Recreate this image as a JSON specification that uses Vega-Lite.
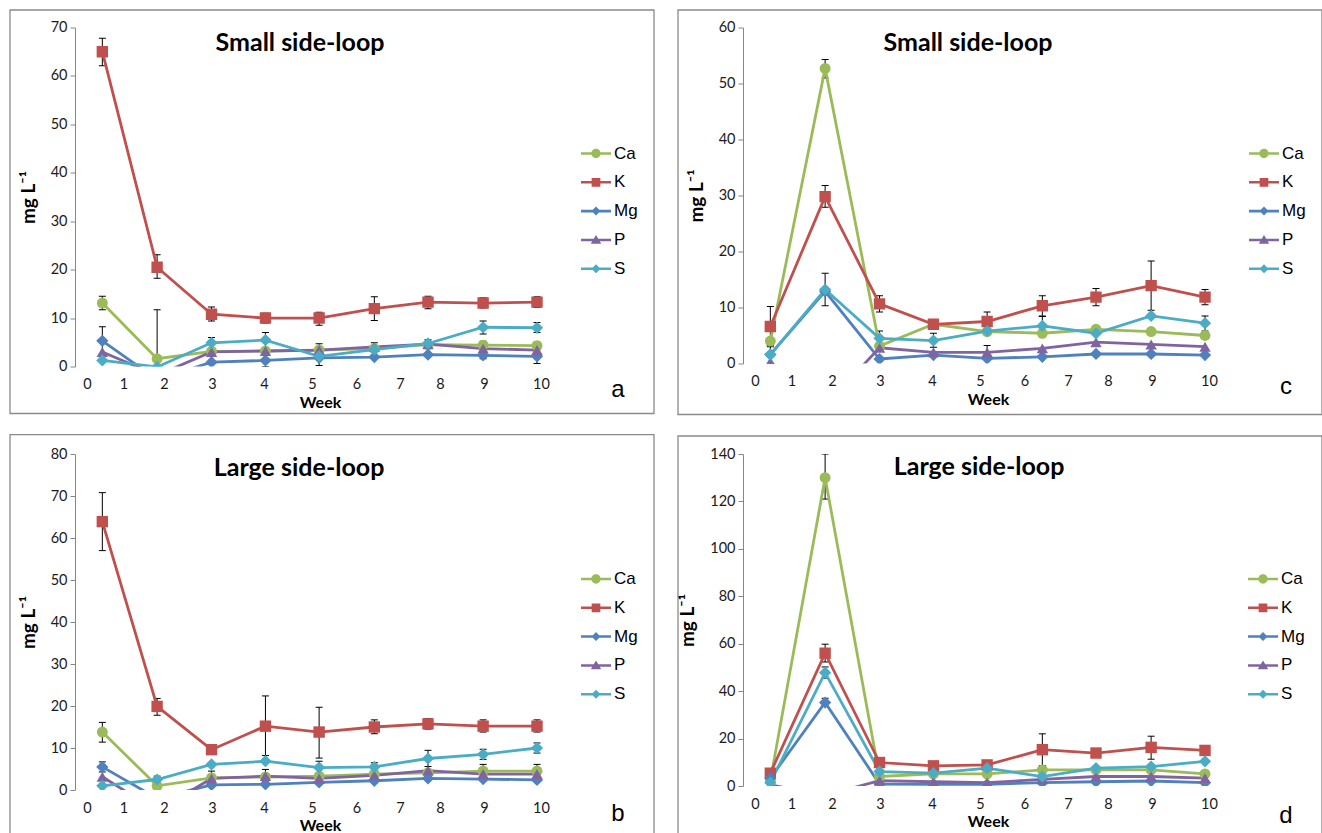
{
"$schema": "https://vega.github.io/schema/vega-lite/v6.json",
"background": "white",
"padding": {"left": 9, "top": 8.5, "right": 0, "bottom": 0},
"config": {
 "view": {"stroke": null},
 "axisY": {"domainColor": "#868686", "domainWidth": 1, "gridColor": "#b4b4b4", "gridWidth": 1, "tickColor": "#868686", "tickSize": 5, "labelFont": "Lato", "labelFontSize": 14.5, "labelColor": "#1a1a1a", "labelPadding": 3, "titleFont": "Lato", "titleFontSize": 19, "titleFontWeight": "bold", "titleColor": "#000", "titlePadding": 12},
 "axisX": {"domain": false, "ticks": false, "grid": false, "labelFont": "Lato", "labelFontSize": 14.5, "labelColor": "#1a1a1a", "labelPadding": 11, "labelFlush": false, "labelOverlap": false, "titleFont": "Lato", "titleFontSize": 16, "titleFontWeight": "bold", "titleColor": "#000", "titlePadding": 3},
 "legend": {"labelFont": "Liberation Sans", "labelFontSize": 17, "labelColor": "#000", "symbolSize": 900, "symbolStrokeWidth": 0, "symbolOpacity": 1, "rowPadding": 5.8, "labelOffset": 3, "padding": 0}
},
"datasets": {"pts": [
{"p":"a","el":"Ca","wk":0.42,"v":13.1,"lo":11.7,"hi":14.5},
{"p":"a","el":"Ca","wk":1.83,"v":1.6,"lo":-8.5,"hi":11.7},
{"p":"a","el":"Ca","wk":2.99,"v":3.1},
{"p":"a","el":"Ca","wk":4.03,"v":3.2},
{"p":"a","el":"Ca","wk":5.16,"v":3.4,"lo":2.6,"hi":4.7},
{"p":"a","el":"Ca","wk":6.41,"v":3.7},
{"p":"a","el":"Ca","wk":7.7,"v":4.5},
{"p":"a","el":"Ca","wk":8.98,"v":4.4,"lo":3.6,"hi":5.2},
{"p":"a","el":"Ca","wk":9.93,"v":4.3,"lo":3.5,"hi":5.0},
{"p":"a","el":"K","wk":0.42,"v":65.0,"lo":62.1,"hi":67.8},
{"p":"a","el":"K","wk":1.83,"v":20.5,"lo":18.2,"hi":23.1},
{"p":"a","el":"K","wk":2.99,"v":10.8,"lo":9.4,"hi":12.3},
{"p":"a","el":"K","wk":4.03,"v":10.0,"lo":9.0,"hi":11.0},
{"p":"a","el":"K","wk":5.16,"v":10.0,"lo":8.5,"hi":11.2},
{"p":"a","el":"K","wk":6.41,"v":11.95,"lo":9.5,"hi":14.4},
{"p":"a","el":"K","wk":7.7,"v":13.3,"lo":11.9,"hi":14.5},
{"p":"a","el":"K","wk":8.98,"v":13.1,"lo":12.1,"hi":14.2},
{"p":"a","el":"K","wk":9.93,"v":13.3,"lo":12.2,"hi":14.4},
{"p":"a","el":"Mg","wk":0.42,"v":5.3,"lo":2.4,"hi":8.2},
{"p":"a","el":"Mg","wk":1.83,"v":-2.7},
{"p":"a","el":"Mg","wk":2.99,"v":0.9},
{"p":"a","el":"Mg","wk":4.03,"v":1.25,"lo":0.0,"hi":2.5},
{"p":"a","el":"Mg","wk":5.16,"v":1.8},
{"p":"a","el":"Mg","wk":6.41,"v":1.95},
{"p":"a","el":"Mg","wk":7.7,"v":2.45},
{"p":"a","el":"Mg","wk":8.98,"v":2.3,"lo":1.6,"hi":3.0},
{"p":"a","el":"Mg","wk":9.93,"v":2.1,"lo":0.6,"hi":3.6},
{"p":"a","el":"P","wk":0.42,"v":3.0},
{"p":"a","el":"P","wk":1.83,"v":-1.8},
{"p":"a","el":"P","wk":2.99,"v":3.0},
{"p":"a","el":"P","wk":4.03,"v":3.2},
{"p":"a","el":"P","wk":5.16,"v":3.4},
{"p":"a","el":"P","wk":6.41,"v":4.05,"lo":3.4,"hi":4.9},
{"p":"a","el":"P","wk":7.7,"v":4.6},
{"p":"a","el":"P","wk":8.98,"v":3.7},
{"p":"a","el":"P","wk":9.93,"v":3.4},
{"p":"a","el":"S","wk":0.42,"v":1.25},
{"p":"a","el":"S","wk":1.83,"v":-0.1},
{"p":"a","el":"S","wk":2.99,"v":4.9,"lo":3.8,"hi":6.0},
{"p":"a","el":"S","wk":4.03,"v":5.45,"lo":3.9,"hi":7.0},
{"p":"a","el":"S","wk":5.16,"v":2.1,"lo":0.2,"hi":4.0},
{"p":"a","el":"S","wk":6.41,"v":3.5},
{"p":"a","el":"S","wk":7.7,"v":4.75,"lo":4.0,"hi":5.5},
{"p":"a","el":"S","wk":8.98,"v":8.1,"lo":6.7,"hi":9.4},
{"p":"a","el":"S","wk":9.93,"v":8.0,"lo":7.0,"hi":9.1},
{"p":"c","el":"Ca","wk":0.42,"v":4.0},
{"p":"c","el":"Ca","wk":1.83,"v":52.7,"lo":51.0,"hi":54.3},
{"p":"c","el":"Ca","wk":2.99,"v":3.1},
{"p":"c","el":"Ca","wk":4.03,"v":7.0},
{"p":"c","el":"Ca","wk":5.16,"v":5.7},
{"p":"c","el":"Ca","wk":6.41,"v":5.4},
{"p":"c","el":"Ca","wk":7.7,"v":6.1},
{"p":"c","el":"Ca","wk":8.98,"v":5.7},
{"p":"c","el":"Ca","wk":9.93,"v":5.0},
{"p":"c","el":"K","wk":0.42,"v":6.6,"lo":3.0,"hi":10.2},
{"p":"c","el":"K","wk":1.83,"v":29.8,"lo":27.9,"hi":31.8},
{"p":"c","el":"K","wk":2.99,"v":10.65,"lo":9.2,"hi":12.1},
{"p":"c","el":"K","wk":4.03,"v":7.0,"lo":6.3,"hi":7.7},
{"p":"c","el":"K","wk":5.16,"v":7.5,"lo":5.9,"hi":9.2},
{"p":"c","el":"K","wk":6.41,"v":10.3,"lo":8.5,"hi":12.1},
{"p":"c","el":"K","wk":7.7,"v":11.85,"lo":10.3,"hi":13.4},
{"p":"c","el":"K","wk":8.98,"v":13.9,"lo":9.5,"hi":18.3},
{"p":"c","el":"K","wk":9.93,"v":11.85,"lo":10.5,"hi":13.2},
{"p":"c","el":"Mg","wk":0.42,"v":1.6},
{"p":"c","el":"Mg","wk":1.83,"v":12.9},
{"p":"c","el":"Mg","wk":2.99,"v":0.8},
{"p":"c","el":"Mg","wk":4.03,"v":1.5},
{"p":"c","el":"Mg","wk":5.16,"v":0.9},
{"p":"c","el":"Mg","wk":6.41,"v":1.2},
{"p":"c","el":"Mg","wk":7.7,"v":1.7},
{"p":"c","el":"Mg","wk":8.98,"v":1.7},
{"p":"c","el":"Mg","wk":9.93,"v":1.5},
{"p":"c","el":"P","wk":0.42,"v":0.3},
{"p":"c","el":"P","wk":1.83,"v":-7.5},
{"p":"c","el":"P","wk":2.99,"v":2.8},
{"p":"c","el":"P","wk":4.03,"v":2.0},
{"p":"c","el":"P","wk":5.16,"v":2.0,"lo":0.9,"hi":3.2},
{"p":"c","el":"P","wk":6.41,"v":2.7},
{"p":"c","el":"P","wk":7.7,"v":3.8},
{"p":"c","el":"P","wk":8.98,"v":3.4},
{"p":"c","el":"P","wk":9.93,"v":3.0},
{"p":"c","el":"S","wk":0.42,"v":1.6,"lo":0.0,"hi":3.2},
{"p":"c","el":"S","wk":1.83,"v":13.2,"lo":10.3,"hi":16.1},
{"p":"c","el":"S","wk":2.99,"v":4.5,"lo":3.2,"hi":5.8},
{"p":"c","el":"S","wk":4.03,"v":4.1,"lo":2.9,"hi":5.4},
{"p":"c","el":"S","wk":5.16,"v":5.8},
{"p":"c","el":"S","wk":6.41,"v":6.7,"lo":5.0,"hi":8.4},
{"p":"c","el":"S","wk":7.7,"v":5.4},
{"p":"c","el":"S","wk":8.98,"v":8.5},
{"p":"c","el":"S","wk":9.93,"v":7.2,"lo":5.8,"hi":8.5},
{"p":"b","el":"Ca","wk":0.42,"v":13.8,"lo":11.4,"hi":16.1},
{"p":"b","el":"Ca","wk":1.83,"v":1.0},
{"p":"b","el":"Ca","wk":2.99,"v":2.9,"lo":1.3,"hi":4.5},
{"p":"b","el":"Ca","wk":4.03,"v":3.1},
{"p":"b","el":"Ca","wk":5.16,"v":3.3},
{"p":"b","el":"Ca","wk":6.41,"v":3.8},
{"p":"b","el":"Ca","wk":7.7,"v":4.1},
{"p":"b","el":"Ca","wk":8.98,"v":4.5,"lo":2.9,"hi":6.1},
{"p":"b","el":"Ca","wk":9.93,"v":4.5,"lo":2.9,"hi":6.1},
{"p":"b","el":"K","wk":0.42,"v":63.9,"lo":57.0,"hi":70.8},
{"p":"b","el":"K","wk":1.83,"v":19.9,"lo":17.8,"hi":21.8},
{"p":"b","el":"K","wk":2.99,"v":9.6,"lo":8.9,"hi":10.6},
{"p":"b","el":"K","wk":4.03,"v":15.2,"lo":8.2,"hi":22.4},
{"p":"b","el":"K","wk":5.16,"v":13.8,"lo":7.6,"hi":19.7},
{"p":"b","el":"K","wk":6.41,"v":15.0,"lo":13.4,"hi":16.7},
{"p":"b","el":"K","wk":7.7,"v":15.75,"lo":14.5,"hi":17.0},
{"p":"b","el":"K","wk":8.98,"v":15.2,"lo":13.8,"hi":16.7},
{"p":"b","el":"K","wk":9.93,"v":15.2,"lo":13.8,"hi":16.7},
{"p":"b","el":"Mg","wk":0.42,"v":5.5,"lo":4.3,"hi":6.7},
{"p":"b","el":"Mg","wk":1.83,"v":-2.0},
{"p":"b","el":"Mg","wk":2.99,"v":1.2},
{"p":"b","el":"Mg","wk":4.03,"v":1.35},
{"p":"b","el":"Mg","wk":5.16,"v":1.8},
{"p":"b","el":"Mg","wk":6.41,"v":2.2},
{"p":"b","el":"Mg","wk":7.7,"v":2.75},
{"p":"b","el":"Mg","wk":8.98,"v":2.6},
{"p":"b","el":"Mg","wk":9.93,"v":2.4},
{"p":"b","el":"P","wk":0.42,"v":3.15},
{"p":"b","el":"P","wk":1.83,"v":-5.0},
{"p":"b","el":"P","wk":2.99,"v":2.75},
{"p":"b","el":"P","wk":4.03,"v":3.3,"lo":2.0,"hi":4.9},
{"p":"b","el":"P","wk":5.16,"v":2.75},
{"p":"b","el":"P","wk":6.41,"v":3.5},
{"p":"b","el":"P","wk":7.7,"v":4.6},
{"p":"b","el":"P","wk":8.98,"v":3.8},
{"p":"b","el":"P","wk":9.93,"v":3.8},
{"p":"b","el":"S","wk":0.42,"v":1.0},
{"p":"b","el":"S","wk":1.83,"v":2.5,"lo":1.7,"hi":3.3},
{"p":"b","el":"S","wk":2.99,"v":6.1},
{"p":"b","el":"S","wk":4.03,"v":6.85},
{"p":"b","el":"S","wk":5.16,"v":5.35,"lo":3.9,"hi":6.85},
{"p":"b","el":"S","wk":6.41,"v":5.5,"lo":4.6,"hi":6.5},
{"p":"b","el":"S","wk":7.7,"v":7.5,"lo":5.6,"hi":9.45},
{"p":"b","el":"S","wk":8.98,"v":8.5,"lo":7.3,"hi":9.7},
{"p":"b","el":"S","wk":9.93,"v":10.0,"lo":8.8,"hi":11.2},
{"p":"d","el":"Ca","wk":0.42,"v":2.3},
{"p":"d","el":"Ca","wk":1.83,"v":130.0,"lo":121.0,"hi":140.0},
{"p":"d","el":"Ca","wk":2.99,"v":4.0},
{"p":"d","el":"Ca","wk":4.03,"v":5.1},
{"p":"d","el":"Ca","wk":5.16,"v":5.1},
{"p":"d","el":"Ca","wk":6.41,"v":6.8},
{"p":"d","el":"Ca","wk":7.7,"v":6.8},
{"p":"d","el":"Ca","wk":8.98,"v":6.8},
{"p":"d","el":"Ca","wk":9.93,"v":5.1},
{"p":"d","el":"K","wk":0.42,"v":5.4},
{"p":"d","el":"K","wk":1.83,"v":56.0,"lo":52.3,"hi":59.8},
{"p":"d","el":"K","wk":2.99,"v":9.9},
{"p":"d","el":"K","wk":4.03,"v":8.5},
{"p":"d","el":"K","wk":5.16,"v":8.9},
{"p":"d","el":"K","wk":6.41,"v":15.3,"lo":8.6,"hi":22.0},
{"p":"d","el":"K","wk":7.7,"v":13.9},
{"p":"d","el":"K","wk":8.98,"v":16.3,"lo":11.3,"hi":21.0},
{"p":"d","el":"K","wk":9.93,"v":15.0},
{"p":"d","el":"Mg","wk":0.42,"v":3.3},
{"p":"d","el":"Mg","wk":1.83,"v":35.2,"lo":33.5,"hi":37.0},
{"p":"d","el":"Mg","wk":2.99,"v":0.85},
{"p":"d","el":"Mg","wk":4.03,"v":0.7},
{"p":"d","el":"Mg","wk":5.16,"v":0.7},
{"p":"d","el":"Mg","wk":6.41,"v":1.4},
{"p":"d","el":"Mg","wk":7.7,"v":1.8},
{"p":"d","el":"Mg","wk":8.98,"v":2.1},
{"p":"d","el":"Mg","wk":9.93,"v":1.4},
{"p":"d","el":"P","wk":0.42,"v":0.5},
{"p":"d","el":"P","wk":1.83,"v":-4.0},
{"p":"d","el":"P","wk":2.99,"v":2.3},
{"p":"d","el":"P","wk":4.03,"v":1.8},
{"p":"d","el":"P","wk":5.16,"v":1.4},
{"p":"d","el":"P","wk":6.41,"v":2.8},
{"p":"d","el":"P","wk":7.7,"v":4.0},
{"p":"d","el":"P","wk":8.98,"v":4.0},
{"p":"d","el":"P","wk":9.93,"v":3.3},
{"p":"d","el":"S","wk":0.42,"v":1.4},
{"p":"d","el":"S","wk":1.83,"v":47.8,"lo":45.5,"hi":50.2},
{"p":"d","el":"S","wk":2.99,"v":6.1},
{"p":"d","el":"S","wk":4.03,"v":5.4},
{"p":"d","el":"S","wk":5.16,"v":7.5},
{"p":"d","el":"S","wk":6.41,"v":4.0},
{"p":"d","el":"S","wk":7.7,"v":7.5},
{"p":"d","el":"S","wk":8.98,"v":8.2},
{"p":"d","el":"S","wk":9.93,"v":10.4}
]},
"resolve": {"scale": {"x": "independent", "y": "independent", "fill": "independent", "stroke": "independent", "shape": "independent"}, "legend": {"fill": "independent", "stroke": "independent", "shape": "independent"}},
"spacing": 18.5,
"vconcat": [
{"hconcat": [
 {"width": 490, "height": 339, "layer": [
  {"data": {"values": [{}]}, "mark": {"type": "rect", "fillOpacity": 0, "stroke": "#8a8a8a", "strokeWidth": 1.3}, "encoding": {"x": {"datum": -2.111, "type": "quantitative"}, "x2": {"datum": 11.982}, "y": {"datum": -9.705, "type": "quantitative"}, "y2": {"datum": 73.61}}},
  {"data": {"values": [{}]}, "mark": {"type": "text", "text": "Small side-loop", "font": "Lato", "fontSize": 25, "fontWeight": "bold", "align": "center", "baseline": "alphabetic", "color": "#000"}, "encoding": {"x": {"datum": 4.75, "type": "quantitative"}, "y": {"datum": 65.19, "type": "quantitative"}}},
  {"data": {"values": [{}]}, "mark": {"type": "text", "text": "a", "font": "Liberation Sans", "fontSize": 24, "align": "center", "baseline": "alphabetic", "color": "#000"}, "encoding": {"x": {"datum": 11.351, "type": "quantitative"}, "y": {"datum": -6.4, "type": "quantitative"}}},
  {"data": {"name": "pts"}, "transform": [{"filter": "datum.p === 'a' && isValid(datum.lo)"}], "mark": {"type": "rule", "color": "#000", "strokeWidth": 1, "clip": true}, "encoding": {"x": {"field": "wk", "type": "quantitative"}, "y": {"field": "lo", "type": "quantitative"}, "y2": {"field": "hi"}}},
  {"data": {"name": "pts"}, "transform": [{"filter": "datum.p === 'a' && isValid(datum.lo)"}], "mark": {"type": "tick", "orient": "horizontal", "size": 7, "thickness": 1, "color": "#000", "opacity": 1, "clip": true}, "encoding": {"x": {"field": "wk", "type": "quantitative"}, "y": {"field": "lo", "type": "quantitative"}}},
  {"data": {"name": "pts"}, "transform": [{"filter": "datum.p === 'a' && isValid(datum.hi)"}], "mark": {"type": "tick", "orient": "horizontal", "size": 7, "thickness": 1, "color": "#000", "opacity": 1, "clip": true}, "encoding": {"x": {"field": "wk", "type": "quantitative"}, "y": {"field": "hi", "type": "quantitative"}}},
  {"data": {"name": "pts"}, "transform": [{"filter": "datum.p === 'a'"}], "mark": {"type": "line", "strokeWidth": 2.8, "clip": true}, "encoding": {
    "x": {"field": "wk", "type": "quantitative", "scale": {"domain": [-0.329,0,1,2,3,4,5,6,7,8,9,10,10.421], "range": [0,12,48.5,89,137,189,237,281.5,325,365,409,466,490], "nice": false, "zero": false}, "axis": {"values": [0,1,2,3,4,5,6,7,8,9,10], "title": "Week"}},
    "y": {"field": "v", "type": "quantitative", "scale": {"domain": [0,70], "nice": false, "zero": false}, "axis": {"values": [0,10,20,30,40,50,60,70], "title": "mg L⁻¹"}},
    "stroke": {"field": "el", "type": "nominal", "scale": {"domain": ["S","P","Mg","K","Ca"], "range": ["#4BACC6","#8064A2","#4F81BD","#C0504D","#9BBB59"]}, "legend": null}}},
  {"data": {"name": "pts"}, "transform": [{"filter": "datum.p === 'a' && datum.el === 'Ca'"}], "mark": {"type": "point", "shape": "circle", "filled": true, "color": "#9BBB59", "opacity": 1, "size": 120, "strokeWidth": 0, "clip": true}, "encoding": {"x": {"field": "wk", "type": "quantitative"}, "y": {"field": "v", "type": "quantitative"}}},
  {"data": {"name": "pts"}, "transform": [{"filter": "datum.p === 'a' && datum.el === 'K'"}], "mark": {"type": "point", "shape": "square", "filled": true, "color": "#C0504D", "opacity": 1, "size": 130, "strokeWidth": 0, "clip": true}, "encoding": {"x": {"field": "wk", "type": "quantitative"}, "y": {"field": "v", "type": "quantitative"}}},
  {"data": {"name": "pts"}, "transform": [{"filter": "datum.p === 'a' && datum.el === 'Mg'"}], "mark": {"type": "point", "shape": "diamond", "filled": true, "color": "#4F81BD", "opacity": 1, "size": 150, "strokeWidth": 0, "clip": true}, "encoding": {"x": {"field": "wk", "type": "quantitative"}, "y": {"field": "v", "type": "quantitative"}}},
  {"data": {"name": "pts"}, "transform": [{"filter": "datum.p === 'a' && datum.el === 'P'"}], "mark": {"type": "point", "shape": "triangle-up", "filled": true, "color": "#8064A2", "opacity": 1, "size": 130, "strokeWidth": 0, "clip": true}, "encoding": {"x": {"field": "wk", "type": "quantitative"}, "y": {"field": "v", "type": "quantitative"}}},
  {"data": {"name": "pts"}, "transform": [{"filter": "datum.p === 'a' && datum.el === 'S'"}], "mark": {"type": "point", "shape": "diamond", "filled": true, "color": "#4BACC6", "opacity": 1, "size": 150, "strokeWidth": 0, "clip": true}, "encoding": {"x": {"field": "wk", "type": "quantitative"}, "y": {"field": "v", "type": "quantitative"}}},
  {"data": {"name": "pts"}, "transform": [{"filter": "datum.p === 'a' && datum.wk === 0.42"}], "mark": {"type": "point", "filled": true, "opacity": 0, "clip": true}, "encoding": {
    "x": {"field": "wk", "type": "quantitative"},
    "y": {"field": "v", "type": "quantitative"},
    "fill": {"field": "el", "type": "nominal", "scale": {"domain": ["Ca","K","Mg","P","S"], "range": ["#9BBB59","#C0504D","#4F81BD","#8064A2","#4BACC6"]}, "legend": {"title": null, "orient": "none", "legendX": 506, "legendY": 111, "symbolOpacity": 1}},
    "shape": {"field": "el", "type": "nominal", "scale": {"domain": ["Ca","K","Mg","P","S"], "range": ["M-1,-0.085H1V0.085H-1Z M0.31,0A0.31,0.31 0 1,1 -0.31,0A0.31,0.31 0 1,1 0.31,0Z", "M-1,-0.085H1V0.085H-1Z M-0.29,-0.29H0.29V0.29H-0.29Z", "M-1,-0.085H1V0.085H-1Z M0,-0.3L0.3,0L0,0.3L-0.3,0Z", "M-1,-0.085H1V0.085H-1Z M0,-0.33L0.35,0.26L-0.35,0.26Z", "M-1,-0.085H1V0.085H-1Z M0,-0.3L0.3,0L0,0.3L-0.3,0Z"]}, "legend": {"title": null, "orient": "none", "legendX": 506, "legendY": 111, "symbolOpacity": 1}}}}
 ]},
 {"width": 490, "height": 336, "layer": [
  {"data": {"values": [{}]}, "mark": {"type": "rect", "fillOpacity": 0, "stroke": "#8a8a8a", "strokeWidth": 1.3}, "encoding": {"x": {"datum": -2.111, "type": "quantitative"}, "x2": {"datum": 11.982}, "y": {"datum": -9.107, "type": "quantitative"}, "y2": {"datum": 63.125}}},
  {"data": {"values": [{}]}, "mark": {"type": "text", "text": "Small side-loop", "font": "Lato", "fontSize": 25, "fontWeight": "bold", "align": "center", "baseline": "alphabetic", "color": "#000"}, "encoding": {"x": {"datum": 4.75, "type": "quantitative"}, "y": {"datum": 55.84, "type": "quantitative"}}},
  {"data": {"values": [{}]}, "mark": {"type": "text", "text": "c", "font": "Liberation Sans", "fontSize": 24, "align": "center", "baseline": "alphabetic", "color": "#000"}, "encoding": {"x": {"datum": 11.351, "type": "quantitative"}, "y": {"datum": -5.46, "type": "quantitative"}}},
  {"data": {"name": "pts"}, "transform": [{"filter": "datum.p === 'c' && isValid(datum.lo)"}], "mark": {"type": "rule", "color": "#000", "strokeWidth": 1, "clip": true}, "encoding": {"x": {"field": "wk", "type": "quantitative"}, "y": {"field": "lo", "type": "quantitative"}, "y2": {"field": "hi"}}},
  {"data": {"name": "pts"}, "transform": [{"filter": "datum.p === 'c' && isValid(datum.lo)"}], "mark": {"type": "tick", "orient": "horizontal", "size": 7, "thickness": 1, "color": "#000", "opacity": 1, "clip": true}, "encoding": {"x": {"field": "wk", "type": "quantitative"}, "y": {"field": "lo", "type": "quantitative"}}},
  {"data": {"name": "pts"}, "transform": [{"filter": "datum.p === 'c' && isValid(datum.hi)"}], "mark": {"type": "tick", "orient": "horizontal", "size": 7, "thickness": 1, "color": "#000", "opacity": 1, "clip": true}, "encoding": {"x": {"field": "wk", "type": "quantitative"}, "y": {"field": "hi", "type": "quantitative"}}},
  {"data": {"name": "pts"}, "transform": [{"filter": "datum.p === 'c'"}], "mark": {"type": "line", "strokeWidth": 2.8, "clip": true}, "encoding": {
    "x": {"field": "wk", "type": "quantitative", "scale": {"domain": [-0.329,0,1,2,3,4,5,6,7,8,9,10,10.421], "range": [0,12,48.5,89,137,189,237,281.5,325,365,409,466,490], "nice": false, "zero": false}, "axis": {"values": [0,1,2,3,4,5,6,7,8,9,10], "title": "Week"}},
    "y": {"field": "v", "type": "quantitative", "scale": {"domain": [0,60], "nice": false, "zero": false}, "axis": {"values": [0,10,20,30,40,50,60], "title": "mg L⁻¹"}},
    "stroke": {"field": "el", "type": "nominal", "scale": {"domain": ["S","P","Mg","K","Ca"], "range": ["#4BACC6","#8064A2","#4F81BD","#C0504D","#9BBB59"]}, "legend": null}}},
  {"data": {"name": "pts"}, "transform": [{"filter": "datum.p === 'c' && datum.el === 'Ca'"}], "mark": {"type": "point", "shape": "circle", "filled": true, "color": "#9BBB59", "opacity": 1, "size": 120, "strokeWidth": 0, "clip": true}, "encoding": {"x": {"field": "wk", "type": "quantitative"}, "y": {"field": "v", "type": "quantitative"}}},
  {"data": {"name": "pts"}, "transform": [{"filter": "datum.p === 'c' && datum.el === 'K'"}], "mark": {"type": "point", "shape": "square", "filled": true, "color": "#C0504D", "opacity": 1, "size": 130, "strokeWidth": 0, "clip": true}, "encoding": {"x": {"field": "wk", "type": "quantitative"}, "y": {"field": "v", "type": "quantitative"}}},
  {"data": {"name": "pts"}, "transform": [{"filter": "datum.p === 'c' && datum.el === 'Mg'"}], "mark": {"type": "point", "shape": "diamond", "filled": true, "color": "#4F81BD", "opacity": 1, "size": 150, "strokeWidth": 0, "clip": true}, "encoding": {"x": {"field": "wk", "type": "quantitative"}, "y": {"field": "v", "type": "quantitative"}}},
  {"data": {"name": "pts"}, "transform": [{"filter": "datum.p === 'c' && datum.el === 'P'"}], "mark": {"type": "point", "shape": "triangle-up", "filled": true, "color": "#8064A2", "opacity": 1, "size": 130, "strokeWidth": 0, "clip": true}, "encoding": {"x": {"field": "wk", "type": "quantitative"}, "y": {"field": "v", "type": "quantitative"}}},
  {"data": {"name": "pts"}, "transform": [{"filter": "datum.p === 'c' && datum.el === 'S'"}], "mark": {"type": "point", "shape": "diamond", "filled": true, "color": "#4BACC6", "opacity": 1, "size": 150, "strokeWidth": 0, "clip": true}, "encoding": {"x": {"field": "wk", "type": "quantitative"}, "y": {"field": "v", "type": "quantitative"}}},
  {"data": {"name": "pts"}, "transform": [{"filter": "datum.p === 'c' && datum.wk === 0.42"}], "mark": {"type": "point", "filled": true, "opacity": 0, "clip": true}, "encoding": {
    "x": {"field": "wk", "type": "quantitative"},
    "y": {"field": "v", "type": "quantitative"},
    "fill": {"field": "el", "type": "nominal", "scale": {"domain": ["Ca","K","Mg","P","S"], "range": ["#9BBB59","#C0504D","#4F81BD","#8064A2","#4BACC6"]}, "legend": {"title": null, "orient": "none", "legendX": 506, "legendY": 111, "symbolOpacity": 1}},
    "shape": {"field": "el", "type": "nominal", "scale": {"domain": ["Ca","K","Mg","P","S"], "range": ["M-1,-0.085H1V0.085H-1Z M0.31,0A0.31,0.31 0 1,1 -0.31,0A0.31,0.31 0 1,1 0.31,0Z", "M-1,-0.085H1V0.085H-1Z M-0.29,-0.29H0.29V0.29H-0.29Z", "M-1,-0.085H1V0.085H-1Z M0,-0.3L0.3,0L0,0.3L-0.3,0Z", "M-1,-0.085H1V0.085H-1Z M0,-0.33L0.35,0.26L-0.35,0.26Z", "M-1,-0.085H1V0.085H-1Z M0,-0.3L0.3,0L0,0.3L-0.3,0Z"]}, "legend": {"title": null, "orient": "none", "legendX": 506, "legendY": 111, "symbolOpacity": 1}}}}
 ]}
], "spacing": 22, "resolve": {"scale": {"x": "independent", "y": "independent", "fill": "independent", "stroke": "independent", "shape": "independent"}, "legend": {"fill": "independent", "stroke": "independent", "shape": "independent"}}},
{"hconcat": [
 {"width": 490, "height": 336, "layer": [
  {"data": {"values": [{}]}, "mark": {"type": "rect", "fillOpacity": 0, "stroke": "#8a8a8a", "strokeWidth": 1.3}, "encoding": {"x": {"datum": -2.111, "type": "quantitative"}, "x2": {"datum": 11.982}, "y": {"datum": -10.4, "type": "quantitative"}, "y2": {"datum": 84.6}}},
  {"data": {"values": [{}]}, "mark": {"type": "text", "text": "Large side-loop", "font": "Lato", "fontSize": 25, "fontWeight": "bold", "align": "center", "baseline": "alphabetic", "color": "#000"}, "encoding": {"x": {"datum": 4.73, "type": "quantitative"}, "y": {"datum": 74.76, "type": "quantitative"}}},
  {"data": {"values": [{}]}, "mark": {"type": "text", "text": "b", "font": "Liberation Sans", "fontSize": 24, "align": "center", "baseline": "alphabetic", "color": "#000"}, "encoding": {"x": {"datum": 11.351, "type": "quantitative"}, "y": {"datum": -7.38, "type": "quantitative"}}},
  {"data": {"name": "pts"}, "transform": [{"filter": "datum.p === 'b' && isValid(datum.lo)"}], "mark": {"type": "rule", "color": "#000", "strokeWidth": 1, "clip": true}, "encoding": {"x": {"field": "wk", "type": "quantitative"}, "y": {"field": "lo", "type": "quantitative"}, "y2": {"field": "hi"}}},
  {"data": {"name": "pts"}, "transform": [{"filter": "datum.p === 'b' && isValid(datum.lo)"}], "mark": {"type": "tick", "orient": "horizontal", "size": 7, "thickness": 1, "color": "#000", "opacity": 1, "clip": true}, "encoding": {"x": {"field": "wk", "type": "quantitative"}, "y": {"field": "lo", "type": "quantitative"}}},
  {"data": {"name": "pts"}, "transform": [{"filter": "datum.p === 'b' && isValid(datum.hi)"}], "mark": {"type": "tick", "orient": "horizontal", "size": 7, "thickness": 1, "color": "#000", "opacity": 1, "clip": true}, "encoding": {"x": {"field": "wk", "type": "quantitative"}, "y": {"field": "hi", "type": "quantitative"}}},
  {"data": {"name": "pts"}, "transform": [{"filter": "datum.p === 'b'"}], "mark": {"type": "line", "strokeWidth": 2.8, "clip": true}, "encoding": {
    "x": {"field": "wk", "type": "quantitative", "scale": {"domain": [-0.329,0,1,2,3,4,5,6,7,8,9,10,10.421], "range": [0,12,48.5,89,137,189,237,281.5,325,365,409,466,490], "nice": false, "zero": false}, "axis": {"values": [0,1,2,3,4,5,6,7,8,9,10], "title": "Week"}},
    "y": {"field": "v", "type": "quantitative", "scale": {"domain": [0,80], "nice": false, "zero": false}, "axis": {"values": [0,10,20,30,40,50,60,70,80], "title": "mg L⁻¹"}},
    "stroke": {"field": "el", "type": "nominal", "scale": {"domain": ["S","P","Mg","K","Ca"], "range": ["#4BACC6","#8064A2","#4F81BD","#C0504D","#9BBB59"]}, "legend": null}}},
  {"data": {"name": "pts"}, "transform": [{"filter": "datum.p === 'b' && datum.el === 'Ca'"}], "mark": {"type": "point", "shape": "circle", "filled": true, "color": "#9BBB59", "opacity": 1, "size": 120, "strokeWidth": 0, "clip": true}, "encoding": {"x": {"field": "wk", "type": "quantitative"}, "y": {"field": "v", "type": "quantitative"}}},
  {"data": {"name": "pts"}, "transform": [{"filter": "datum.p === 'b' && datum.el === 'K'"}], "mark": {"type": "point", "shape": "square", "filled": true, "color": "#C0504D", "opacity": 1, "size": 130, "strokeWidth": 0, "clip": true}, "encoding": {"x": {"field": "wk", "type": "quantitative"}, "y": {"field": "v", "type": "quantitative"}}},
  {"data": {"name": "pts"}, "transform": [{"filter": "datum.p === 'b' && datum.el === 'Mg'"}], "mark": {"type": "point", "shape": "diamond", "filled": true, "color": "#4F81BD", "opacity": 1, "size": 150, "strokeWidth": 0, "clip": true}, "encoding": {"x": {"field": "wk", "type": "quantitative"}, "y": {"field": "v", "type": "quantitative"}}},
  {"data": {"name": "pts"}, "transform": [{"filter": "datum.p === 'b' && datum.el === 'P'"}], "mark": {"type": "point", "shape": "triangle-up", "filled": true, "color": "#8064A2", "opacity": 1, "size": 130, "strokeWidth": 0, "clip": true}, "encoding": {"x": {"field": "wk", "type": "quantitative"}, "y": {"field": "v", "type": "quantitative"}}},
  {"data": {"name": "pts"}, "transform": [{"filter": "datum.p === 'b' && datum.el === 'S'"}], "mark": {"type": "point", "shape": "diamond", "filled": true, "color": "#4BACC6", "opacity": 1, "size": 150, "strokeWidth": 0, "clip": true}, "encoding": {"x": {"field": "wk", "type": "quantitative"}, "y": {"field": "v", "type": "quantitative"}}},
  {"data": {"name": "pts"}, "transform": [{"filter": "datum.p === 'b' && datum.wk === 0.42"}], "mark": {"type": "point", "filled": true, "opacity": 0, "clip": true}, "encoding": {
    "x": {"field": "wk", "type": "quantitative"},
    "y": {"field": "v", "type": "quantitative"},
    "fill": {"field": "el", "type": "nominal", "scale": {"domain": ["Ca","K","Mg","P","S"], "range": ["#9BBB59","#C0504D","#4F81BD","#8064A2","#4BACC6"]}, "legend": {"title": null, "orient": "none", "legendX": 506, "legendY": 110, "symbolOpacity": 1}},
    "shape": {"field": "el", "type": "nominal", "scale": {"domain": ["Ca","K","Mg","P","S"], "range": ["M-1,-0.085H1V0.085H-1Z M0.31,0A0.31,0.31 0 1,1 -0.31,0A0.31,0.31 0 1,1 0.31,0Z", "M-1,-0.085H1V0.085H-1Z M-0.29,-0.29H0.29V0.29H-0.29Z", "M-1,-0.085H1V0.085H-1Z M0,-0.3L0.3,0L0,0.3L-0.3,0Z", "M-1,-0.085H1V0.085H-1Z M0,-0.33L0.35,0.26L-0.35,0.26Z", "M-1,-0.085H1V0.085H-1Z M0,-0.3L0.3,0L0,0.3L-0.3,0Z"]}, "legend": {"title": null, "orient": "none", "legendX": 506, "legendY": 110, "symbolOpacity": 1}}}}
 ]},
 {"width": 490, "height": 332, "layer": [
  {"data": {"values": [{}]}, "mark": {"type": "rect", "fillOpacity": 0, "stroke": "#8a8a8a", "strokeWidth": 1.3}, "encoding": {"x": {"datum": -2.111, "type": "quantitative"}, "x2": {"datum": 11.982}, "y": {"datum": -20.66, "type": "quantitative"}, "y2": {"datum": 147.59}}},
  {"data": {"values": [{}]}, "mark": {"type": "text", "text": "Large side-loop", "font": "Lato", "fontSize": 25, "fontWeight": "bold", "align": "center", "baseline": "alphabetic", "color": "#000"}, "encoding": {"x": {"datum": 4.98, "type": "quantitative"}, "y": {"datum": 131.0, "type": "quantitative"}}},
  {"data": {"values": [{}]}, "mark": {"type": "text", "text": "d", "font": "Liberation Sans", "fontSize": 24, "align": "center", "baseline": "alphabetic", "color": "#000"}, "encoding": {"x": {"datum": 11.351, "type": "quantitative"}, "y": {"datum": -15.4, "type": "quantitative"}}},
  {"data": {"name": "pts"}, "transform": [{"filter": "datum.p === 'd' && isValid(datum.lo)"}], "mark": {"type": "rule", "color": "#000", "strokeWidth": 1, "clip": true}, "encoding": {"x": {"field": "wk", "type": "quantitative"}, "y": {"field": "lo", "type": "quantitative"}, "y2": {"field": "hi"}}},
  {"data": {"name": "pts"}, "transform": [{"filter": "datum.p === 'd' && isValid(datum.lo)"}], "mark": {"type": "tick", "orient": "horizontal", "size": 7, "thickness": 1, "color": "#000", "opacity": 1, "clip": true}, "encoding": {"x": {"field": "wk", "type": "quantitative"}, "y": {"field": "lo", "type": "quantitative"}}},
  {"data": {"name": "pts"}, "transform": [{"filter": "datum.p === 'd' && isValid(datum.hi)"}], "mark": {"type": "tick", "orient": "horizontal", "size": 7, "thickness": 1, "color": "#000", "opacity": 1, "clip": true}, "encoding": {"x": {"field": "wk", "type": "quantitative"}, "y": {"field": "hi", "type": "quantitative"}}},
  {"data": {"name": "pts"}, "transform": [{"filter": "datum.p === 'd'"}], "mark": {"type": "line", "strokeWidth": 2.8, "clip": true}, "encoding": {
    "x": {"field": "wk", "type": "quantitative", "scale": {"domain": [-0.329,0,1,2,3,4,5,6,7,8,9,10,10.421], "range": [0,12,48.5,89,137,189,237,281.5,325,365,409,466,490], "nice": false, "zero": false}, "axis": {"values": [0,1,2,3,4,5,6,7,8,9,10], "title": "Week"}},
    "y": {"field": "v", "type": "quantitative", "scale": {"domain": [0,140], "nice": false, "zero": false}, "axis": {"values": [0,20,40,60,80,100,120,140], "title": "mg L⁻¹"}},
    "stroke": {"field": "el", "type": "nominal", "scale": {"domain": ["S","P","Mg","K","Ca"], "range": ["#4BACC6","#8064A2","#4F81BD","#C0504D","#9BBB59"]}, "legend": null}}},
  {"data": {"name": "pts"}, "transform": [{"filter": "datum.p === 'd' && datum.el === 'Ca'"}], "mark": {"type": "point", "shape": "circle", "filled": true, "color": "#9BBB59", "opacity": 1, "size": 120, "strokeWidth": 0, "clip": true}, "encoding": {"x": {"field": "wk", "type": "quantitative"}, "y": {"field": "v", "type": "quantitative"}}},
  {"data": {"name": "pts"}, "transform": [{"filter": "datum.p === 'd' && datum.el === 'K'"}], "mark": {"type": "point", "shape": "square", "filled": true, "color": "#C0504D", "opacity": 1, "size": 130, "strokeWidth": 0, "clip": true}, "encoding": {"x": {"field": "wk", "type": "quantitative"}, "y": {"field": "v", "type": "quantitative"}}},
  {"data": {"name": "pts"}, "transform": [{"filter": "datum.p === 'd' && datum.el === 'Mg'"}], "mark": {"type": "point", "shape": "diamond", "filled": true, "color": "#4F81BD", "opacity": 1, "size": 150, "strokeWidth": 0, "clip": true}, "encoding": {"x": {"field": "wk", "type": "quantitative"}, "y": {"field": "v", "type": "quantitative"}}},
  {"data": {"name": "pts"}, "transform": [{"filter": "datum.p === 'd' && datum.el === 'P'"}], "mark": {"type": "point", "shape": "triangle-up", "filled": true, "color": "#8064A2", "opacity": 1, "size": 130, "strokeWidth": 0, "clip": true}, "encoding": {"x": {"field": "wk", "type": "quantitative"}, "y": {"field": "v", "type": "quantitative"}}},
  {"data": {"name": "pts"}, "transform": [{"filter": "datum.p === 'd' && datum.el === 'S'"}], "mark": {"type": "point", "shape": "diamond", "filled": true, "color": "#4BACC6", "opacity": 1, "size": 150, "strokeWidth": 0, "clip": true}, "encoding": {"x": {"field": "wk", "type": "quantitative"}, "y": {"field": "v", "type": "quantitative"}}},
  {"data": {"name": "pts"}, "transform": [{"filter": "datum.p === 'd' && datum.wk === 0.42"}], "mark": {"type": "point", "filled": true, "opacity": 0, "clip": true}, "encoding": {
    "x": {"field": "wk", "type": "quantitative"},
    "y": {"field": "v", "type": "quantitative"},
    "fill": {"field": "el", "type": "nominal", "scale": {"domain": ["Ca","K","Mg","P","S"], "range": ["#9BBB59","#C0504D","#4F81BD","#8064A2","#4BACC6"]}, "legend": {"title": null, "orient": "none", "legendX": 505, "legendY": 110, "symbolOpacity": 1}},
    "shape": {"field": "el", "type": "nominal", "scale": {"domain": ["Ca","K","Mg","P","S"], "range": ["M-1,-0.085H1V0.085H-1Z M0.31,0A0.31,0.31 0 1,1 -0.31,0A0.31,0.31 0 1,1 0.31,0Z", "M-1,-0.085H1V0.085H-1Z M-0.29,-0.29H0.29V0.29H-0.29Z", "M-1,-0.085H1V0.085H-1Z M0,-0.3L0.3,0L0,0.3L-0.3,0Z", "M-1,-0.085H1V0.085H-1Z M0,-0.33L0.35,0.26L-0.35,0.26Z", "M-1,-0.085H1V0.085H-1Z M0,-0.3L0.3,0L0,0.3L-0.3,0Z"]}, "legend": {"title": null, "orient": "none", "legendX": 505, "legendY": 110, "symbolOpacity": 1}}}}
 ]}
], "spacing": 22, "resolve": {"scale": {"x": "independent", "y": "independent", "fill": "independent", "stroke": "independent", "shape": "independent"}, "legend": {"fill": "independent", "stroke": "independent", "shape": "independent"}}}
]
}
